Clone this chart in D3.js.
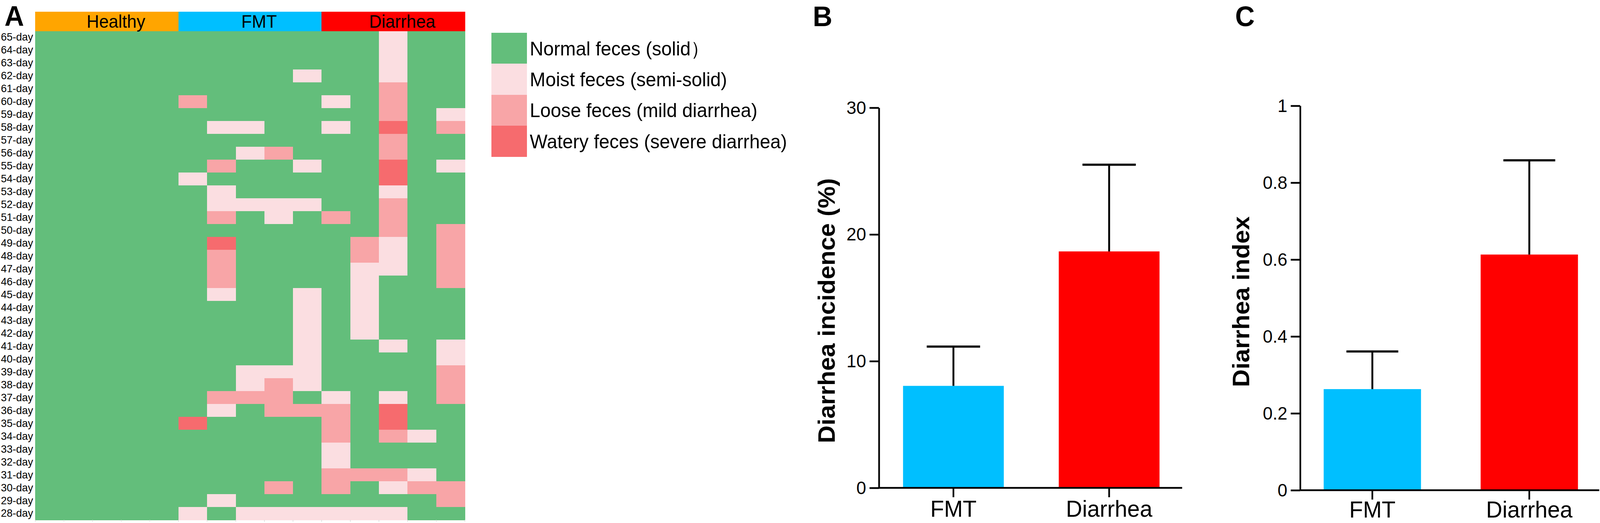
<!DOCTYPE html>
<html>
<head>
<meta charset="utf-8">
<script src="https://cdn.jsdelivr.net/npm/d3@7"></script>
<style>
  html, body { margin: 0; padding: 0; background: #fff; overflow: hidden; width: 100%; height: 100%; }
  svg { display: block; width: 100vw; height: 100vh; font-family: "Liberation Sans", Arial, Helvetica, sans-serif; }
</style>
</head>
<body>
<svg id="chart" viewBox="0 0 4258 1340" preserveAspectRatio="none"></svg>
<script>
// ---------------- DATA ----------------
const dayLabels = ["65-day","64-day","63-day","62-day","61-day","60-day","59-day","58-day","57-day","56-day",
  "55-day","54-day","53-day","52-day","51-day","50-day","49-day","48-day","47-day","46-day",
  "45-day","44-day","43-day","42-day","41-day","40-day","39-day","38-day","37-day","36-day",
  "35-day","34-day","33-day","32-day","31-day","30-day","29-day","28-day"];
const animalIds = ["H1","H2","H3","H4","H5","F1","F2","F3","F4","F5","D1","D2","D3","D4","D5"];
const groupNames = ["Healthy","FMT","Diarrhea"];
const groupColors = ["#FFA500","#00BFFF","#FF0000"];
// fecal score: 0 normal, 1 moist, 2 loose, 3 watery  (rows follow dayLabels)
const fecalScores = [
  [0,0,0,0,0, 0,0,0,0,0, 0,0,1,0,0], // 65
  [0,0,0,0,0, 0,0,0,0,0, 0,0,1,0,0], // 64
  [0,0,0,0,0, 0,0,0,0,0, 0,0,1,0,0], // 63
  [0,0,0,0,0, 0,0,0,0,1, 0,0,1,0,0], // 62
  [0,0,0,0,0, 0,0,0,0,0, 0,0,2,0,0], // 61
  [0,0,0,0,0, 2,0,0,0,0, 1,0,2,0,0], // 60
  [0,0,0,0,0, 0,0,0,0,0, 0,0,2,0,1], // 59
  [0,0,0,0,0, 0,1,1,0,0, 1,0,3,0,2], // 58
  [0,0,0,0,0, 0,0,0,0,0, 0,0,2,0,0], // 57
  [0,0,0,0,0, 0,0,1,2,0, 0,0,2,0,0], // 56
  [0,0,0,0,0, 0,2,0,0,1, 0,0,3,0,1], // 55
  [0,0,0,0,0, 1,0,0,0,0, 0,0,3,0,0], // 54
  [0,0,0,0,0, 0,1,0,0,0, 0,0,1,0,0], // 53
  [0,0,0,0,0, 0,1,1,1,1, 0,0,2,0,0], // 52
  [0,0,0,0,0, 0,2,0,1,0, 2,0,2,0,0], // 51
  [0,0,0,0,0, 0,0,0,0,0, 0,0,2,0,2], // 50
  [0,0,0,0,0, 0,3,0,0,0, 0,2,1,0,2], // 49
  [0,0,0,0,0, 0,2,0,0,0, 0,2,1,0,2], // 48
  [0,0,0,0,0, 0,2,0,0,0, 0,1,1,0,2], // 47
  [0,0,0,0,0, 0,2,0,0,0, 0,1,0,0,2], // 46
  [0,0,0,0,0, 0,1,0,0,1, 0,1,0,0,0], // 45
  [0,0,0,0,0, 0,0,0,0,1, 0,1,0,0,0], // 44
  [0,0,0,0,0, 0,0,0,0,1, 0,1,0,0,0], // 43
  [0,0,0,0,0, 0,0,0,0,1, 0,1,0,0,0], // 42
  [0,0,0,0,0, 0,0,0,0,1, 0,0,1,0,1], // 41
  [0,0,0,0,0, 0,0,0,0,1, 0,0,0,0,1], // 40
  [0,0,0,0,0, 0,0,1,1,1, 0,0,0,0,2], // 39
  [0,0,0,0,0, 0,0,1,2,1, 0,0,0,0,2], // 38
  [0,0,0,0,0, 0,2,2,2,0, 1,0,1,0,2], // 37
  [0,0,0,0,0, 0,1,0,2,2, 2,0,3,0,0], // 36
  [0,0,0,0,0, 3,0,0,0,0, 2,0,3,0,0], // 35
  [0,0,0,0,0, 0,0,0,0,0, 2,0,2,1,0], // 34
  [0,0,0,0,0, 0,0,0,0,0, 1,0,0,0,0], // 33
  [0,0,0,0,0, 0,0,0,0,0, 1,0,0,0,0], // 32
  [0,0,0,0,0, 0,0,0,0,0, 2,2,2,1,0], // 31
  [0,0,0,0,0, 0,0,0,2,0, 2,0,1,2,2], // 30
  [0,0,0,0,0, 0,1,0,0,0, 0,0,0,0,2], // 29
  [0,0,0,0,0, 1,0,1,1,1, 1,1,1,0,0]  // 28
];
const scoreLevels = [0,1,2,3];
const scoreColors = ["#63BE7B","#FBDEE1","#F8A5A7","#F66B6E"];
const legendLabels = ["Normal feces (solid\uFF09","Moist feces (semi-solid)","Loose feces (mild diarrhea)","Watery feces (severe diarrhea)"];

const barCategories = ["FMT","Diarrhea"];
const barColors = ["#00BFFF","#FF0000"];
const incidenceMeans = [8.05, 18.66];
const incidenceErrors = [3.1, 6.84];
const incidenceTicks = [0, 10, 20, 30];
const indexMeans = [0.263, 0.613];
const indexErrors = [0.098, 0.245];
const indexTicks = [0, 0.2, 0.4, 0.6, 0.8, 1];

// ---------------- DRAW ----------------
const svg = d3.select("#chart");
svg.append("rect").attr("width", 4258).attr("height", 1340).attr("fill", "#fff");

// Panel letters
const letters = [["A", 12, 66], ["B", 2163, 67], ["C", 3287, 67]];
svg.selectAll("text.panel").data(letters).join("text")
  .attr("class", "panel")
  .attr("x", d => d[1]).attr("y", d => d[2])
  .attr("font-size", 72).attr("font-weight", "bold").attr("fill", "#000")
  .text(d => d[0]);

// ---- Heatmap (A) ----
const hx = d3.scaleBand().domain(animalIds).range([94, 1237]);
const hy = d3.scaleBand().domain(dayLabels).range([79, 1332]);
const color = d3.scaleOrdinal().domain(scoreLevels).range(scoreColors);

const cells = [];
fecalScores.forEach((row, i) => row.forEach((v, j) => cells.push({day: dayLabels[i], id: animalIds[j], v})));
const heat = svg.append("g").attr("shape-rendering", "crispEdges");
// base layer (normal colour) so no seams appear between cells
heat.append("rect")
  .attr("x", hx.range()[0]).attr("y", hy.range()[0])
  .attr("width", hx.range()[1] - hx.range()[0]).attr("height", hy.range()[1] - hy.range()[0])
  .attr("fill", color(0));
heat.selectAll("rect.cell").data(cells).join("rect")
  .attr("class", "cell")
  .attr("x", d => hx(d.id)).attr("y", d => hy(d.day))
  .attr("width", hx.bandwidth() + 1).attr("height", hy.bandwidth() + 1)
  .attr("fill", d => color(d.v));

// group header
const groupData = groupNames.map((g, k) => ({g, k, first: animalIds[k * 5], last: animalIds[k * 5 + 4]}));
svg.selectAll("rect.hdr").data(groupData).join("rect")
  .attr("class", "hdr")
  .attr("shape-rendering", "crispEdges")
  .attr("x", d => hx(d.first)).attr("y", 30)
  .attr("width", d => hx(d.last) + hx.bandwidth() - hx(d.first) + 1).attr("height", 49.5)
  .attr("fill", d => groupColors[d.k]);
svg.selectAll("text.hdr").data(groupData).join("text")
  .attr("class", "hdr")
  .attr("x", d => (hx(d.first) + hx(d.last) + hx.bandwidth()) / 2 + 24).attr("y", 71)
  .attr("text-anchor", "middle").attr("font-size", 46).attr("fill", "#000")
  .text(d => d.g);

// faint column ticks below heatmap
svg.selectAll("line.coltick").data(animalIds.concat(["end"])).join("line")
  .attr("class", "coltick")
  .attr("x1", (d, i) => i < animalIds.length ? hx(d) : hx.range()[1])
  .attr("x2", (d, i) => i < animalIds.length ? hx(d) : hx.range()[1])
  .attr("y1", 1332).attr("y2", 1337)
  .attr("stroke", "#d8d8d8").attr("stroke-width", 1.5);

// row labels
const rowAxis = svg.append("g").attr("transform", "translate(94,0)")
  .call(d3.axisLeft(hy).tickSize(0).tickPadding(6));
rowAxis.select(".domain").remove();
rowAxis.selectAll("text").attr("font-size", 28).attr("fill", "#000")
  .attr("font-family", "'Liberation Sans', Arial, sans-serif");

// legend
const lg = svg.append("g");
const ly = d3.scaleBand().domain(legendLabels).range([84, 401]);
lg.selectAll("rect").data(legendLabels).join("rect")
  .attr("shape-rendering", "crispEdges")
  .attr("x", 1308).attr("y", d => ly(d)).attr("width", 94).attr("height", ly.bandwidth() + 1)
  .attr("fill", (d, i) => scoreColors[i]);
lg.selectAll("text").data(legendLabels).join("text")
  .attr("x", 1410).attr("y", d => ly(d) + 58)
  .attr("font-size", 50).attr("fill", "#000")
  .text(d => d);

// ---- Bar charts ----
function barPanel(o) {
  const g = svg.append("g");
  const y = d3.scaleLinear().domain([0, o.ticks[o.ticks.length - 1]]).range([o.y0, o.y1]);
  const x = d3.scaleBand().domain(barCategories).range([o.x0, o.x1])
    .paddingInner(o.pi).paddingOuter(o.po);

  g.selectAll("rect.bar").data(barCategories).join("rect")
    .attr("class", "bar")
    .attr("x", d => x(d)).attr("width", x.bandwidth())
    .attr("y", (d, i) => y(o.means[i]))
    .attr("height", (d, i) => y(0) - y(o.means[i]))
    .attr("fill", (d, i) => barColors[i]);

  // error bars (upper only)
  const eb = g.selectAll("g.err").data(barCategories).join("g").attr("class", "err");
  eb.append("line")
    .attr("x1", d => x(d) + x.bandwidth() / 2).attr("x2", d => x(d) + x.bandwidth() / 2)
    .attr("y1", (d, i) => y(o.means[i])).attr("y2", (d, i) => y(o.means[i] + o.errs[i]))
    .attr("stroke", "#000").attr("stroke-width", 5);
  eb.append("line")
    .attr("x1", d => x(d) + x.bandwidth() / 2 - o.cap / 2).attr("x2", d => x(d) + x.bandwidth() / 2 + o.cap / 2)
    .attr("y1", (d, i) => y(o.means[i] + o.errs[i])).attr("y2", (d, i) => y(o.means[i] + o.errs[i]))
    .attr("stroke", "#000").attr("stroke-width", 5.5);

  // y axis
  const ya = g.append("g").attr("transform", `translate(${o.x0},0)`)
    .call(d3.axisLeft(y).tickValues(o.ticks).tickSize(25).tickSizeOuter(0).tickPadding(9)
      .tickFormat(o.fmt));
  ya.selectAll("path, line").attr("stroke", "#000").attr("stroke-width", 4.5);
  ya.selectAll("text").attr("font-size", 47).attr("fill", "#000")
    .attr("font-family", "'Liberation Sans', Arial, sans-serif");

  // x axis
  const xa = g.append("g").attr("transform", `translate(0,${o.y0})`)
    .call(d3.axisBottom(x).tickSize(24).tickSizeOuter(0));
  xa.select(".domain").attr("d", `M${o.x0},0H${o.xEnd}`);
  xa.selectAll("path, line").attr("stroke", "#000").attr("stroke-width", 4.5);
  xa.selectAll("text").attr("font-size", 60).attr("fill", "#000")
    .attr("y", o.ly).attr("dy", 0)
    .attr("font-family", "'Liberation Sans', Arial, sans-serif");

  // y title
  g.append("text")
    .attr("transform", `translate(${o.tx},${o.ty}) rotate(-90)`)
    .attr("text-anchor", "middle").attr("font-size", o.tfs).attr("font-weight", "bold").attr("fill", "#000")
    .text(o.title);
}

barPanel({
  x0: 2339, x1: 3150, xEnd: 3146, y0: 1250, y1: 276,
  pi: 0.353, po: 0.155, cap: 142, ly: 74,
  ticks: incidenceTicks, means: incidenceMeans, errs: incidenceErrors,
  fmt: d3.format("d"),
  title: "Diarrhea incidence (%)", tx: 2222, ty: 796, tfs: 63
});

barPanel({
  x0: 3460, x1: 4262, xEnd: 4256, y0: 1256, y1: 271,
  pi: 0.38, po: 0.15, cap: 138, ly: 70,
  ticks: indexTicks, means: indexMeans, errs: indexErrors,
  fmt: d => d === 0 ? "0" : d === 1 ? "1" : d3.format(".1f")(d),
  title: "Diarrhea index", tx: 3325, ty: 773, tfs: 63
});
</script>
</body>
</html>
